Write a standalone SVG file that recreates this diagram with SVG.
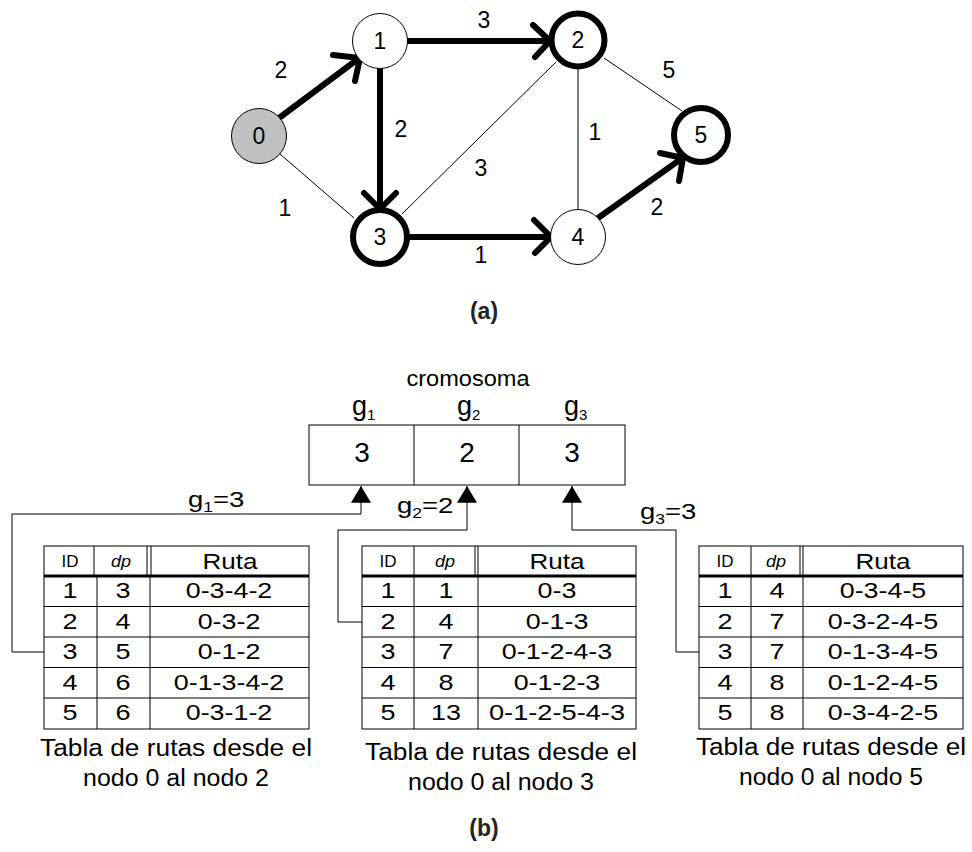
<svg xmlns="http://www.w3.org/2000/svg" width="972" height="852" viewBox="0 0 972 852">
<style>
text{font-family:"Liberation Sans",Arial,sans-serif;fill:#000}
.nl{font-size:23px;text-anchor:middle}
.el{font-size:23px;text-anchor:middle}
.thick{fill:none;stroke:#000;stroke-width:6;stroke-linecap:round;stroke-linejoin:round}
.thin{fill:none;stroke:#000;stroke-width:1}
.node{fill:#fff;stroke:#000;stroke-width:1}
.nodeB{fill:#fff;stroke:#000;stroke-width:6}
.cap{font-size:23px;text-anchor:middle}
.tb{font-size:22.5px;text-anchor:middle}
.th{font-size:16px;text-anchor:middle}
.grid{fill:none;stroke:#000;stroke-width:1}
.conn{fill:none;stroke:#000;stroke-width:1}
.big{font-size:28px;text-anchor:middle}
.lbl{font-weight:bold;font-size:23px;text-anchor:middle;fill:#222}
</style>
<defs>
<marker id="tri" markerWidth="20" markerHeight="20" viewBox="0 0 16 19" refX="16" refY="9.5" orient="auto" markerUnits="userSpaceOnUse">
<path d="M0,0 L16,9.5 L0,19 Z" fill="#000"/>
</marker>
</defs>

<g id="edges">
<line class="thin" x1="280" y1="154" x2="354" y2="218"/>
<line class="thin" x1="402" y1="214" x2="556" y2="62"/>
<line class="thin" x1="578" y1="69" x2="578" y2="210"/>
<line class="thin" x1="604" y1="58" x2="682" y2="111"/>
<path class="thick" d="M279,118 L358,59 M333,55 L360,58 L355,81"/>
<path class="thick" d="M408,41 L548,41 M533,25 L550,41 L535,57"/>
<path class="thick" d="M380,68 L380,207 M364,193 L380,209 L396,193"/>
<path class="thick" d="M410,237 L549,237 M534,220 L551,237 L535,253"/>
<path class="thick" d="M598,218 L681,159 M660,153 L683,158 L679,181"/>
<text class="el" x="281" y="78">2</text>
<text class="el" x="484" y="28">3</text>
<text class="el" x="401" y="137">2</text>
<text class="el" x="285" y="216">1</text>
<text class="el" x="481" y="176">3</text>
<text class="el" x="595" y="140">1</text>
<text class="el" x="669" y="78">5</text>
<text class="el" x="481" y="263">1</text>
<text class="el" x="657" y="215">2</text>
</g>

<g id="n0"><circle cx="259" cy="136" r="27.5" fill="#c0c0c0" stroke="#000" stroke-width="1"/><text class="nl" x="259" y="144">0</text></g>
<g id="n1"><circle class="node" cx="380" cy="41" r="27.5"/><text class="nl" x="380" y="49">1</text></g>
<g id="n2"><circle class="nodeB" cx="578" cy="40" r="26.5"/><text class="nl" x="578" y="48">2</text></g>
<g id="n3"><circle class="nodeB" cx="380" cy="237" r="27"/><text class="nl" x="380" y="245">3</text></g>
<g id="n4"><circle class="node" cx="578" cy="237" r="27.5"/><text class="nl" x="578" y="245">4</text></g>
<g id="n5"><circle class="nodeB" cx="701" cy="135" r="27"/><text class="nl" x="701" y="143">5</text></g>

<text class="lbl" x="484" y="319">(a)</text>

<g id="cromosoma">
<text x="468" y="386" style="font-size:22px;text-anchor:middle" textLength="123" lengthAdjust="spacingAndGlyphs">cromosoma</text>
<text x="352" y="415" style="font-size:27px">g<tspan dy="5" style="font-size:15px">1</tspan></text>
<text x="457" y="415" style="font-size:27px">g<tspan dy="5" style="font-size:15px">2</tspan></text>
<text x="564" y="415" style="font-size:27px">g<tspan dy="5" style="font-size:15px">3</tspan></text>
<rect class="grid" x="309" y="425" width="316" height="60"/>
<line class="grid" x1="414" y1="425" x2="414" y2="485"/>
<line class="grid" x1="519" y1="425" x2="519" y2="485"/>
<text class="big" x="362" y="462">3</text>
<text class="big" x="467" y="462">2</text>
<text class="big" x="572" y="462">3</text>
</g>

<g id="connectors">
<path class="conn" d="M44,652 L12,652 L12,514 L361,514 L361,486" marker-end="url(#tri)"/>
<path class="conn" d="M362,622 L338,622 L338,530 L467,530 L467,486" marker-end="url(#tri)"/>
<path class="conn" d="M699,652 L676,652 L676,530 L572,530 L572,486" marker-end="url(#tri)"/>
<text transform="translate(188,507) scale(1.25,1)" style="font-size:22px">g<tspan dy="5" style="font-size:14px">1</tspan><tspan dy="-5">=3</tspan></text>
<text transform="translate(397,513) scale(1.25,1)" style="font-size:22px">g<tspan dy="5" style="font-size:14px">2</tspan><tspan dy="-5">=2</tspan></text>
<text transform="translate(640,519) scale(1.25,1)" style="font-size:22px">g<tspan dy="5" style="font-size:14px">3</tspan><tspan dy="-5">=3</tspan></text>
</g>

<g id="tabla1">
<rect class="grid" x="44" y="546" width="265" height="183"/>
<line class="grid" x1="94" y1="546" x2="94" y2="576"/>
<line class="grid" x1="147" y1="546" x2="147" y2="576"/>
<line class="grid" x1="151" y1="546" x2="151" y2="576"/>
<line class="grid" x1="97" y1="576" x2="97" y2="729"/>
<line class="grid" x1="150" y1="576" x2="150" y2="729"/>
<line x1="44" y1="576" x2="309" y2="576" stroke="#000" stroke-width="3"/>
<line class="grid" x1="44" y1="606.5" x2="309" y2="606.5"/>
<line class="grid" x1="44" y1="637" x2="309" y2="637"/>
<line class="grid" x1="44" y1="667.5" x2="309" y2="667.5"/>
<line class="grid" x1="44" y1="698" x2="309" y2="698"/>
<text class="th" x="70" y="567" textLength="17" lengthAdjust="spacingAndGlyphs">ID</text>
<text class="th" x="121" y="567" font-style="italic" textLength="20" lengthAdjust="spacingAndGlyphs">dp</text>
<text class="tb" x="230" y="569" textLength="55" lengthAdjust="spacingAndGlyphs">Ruta</text>
<text class="tb" x="70" y="598" textLength="15" lengthAdjust="spacingAndGlyphs">1</text><text class="tb" x="123" y="598" textLength="15" lengthAdjust="spacingAndGlyphs">3</text><text class="tb" x="229" y="598" textLength="86.5" lengthAdjust="spacingAndGlyphs">0-3-4-2</text>
<text class="tb" x="70" y="628.5" textLength="15" lengthAdjust="spacingAndGlyphs">2</text><text class="tb" x="123" y="628.5" textLength="15" lengthAdjust="spacingAndGlyphs">4</text><text class="tb" x="229" y="628.5" textLength="62.7" lengthAdjust="spacingAndGlyphs">0-3-2</text>
<text class="tb" x="70" y="659" textLength="15" lengthAdjust="spacingAndGlyphs">3</text><text class="tb" x="123" y="659" textLength="15" lengthAdjust="spacingAndGlyphs">5</text><text class="tb" x="229" y="659" textLength="62.7" lengthAdjust="spacingAndGlyphs">0-1-2</text>
<text class="tb" x="70" y="689.5" textLength="15" lengthAdjust="spacingAndGlyphs">4</text><text class="tb" x="123" y="689.5" textLength="15" lengthAdjust="spacingAndGlyphs">6</text><text class="tb" x="229" y="689.5" textLength="110.4" lengthAdjust="spacingAndGlyphs">0-1-3-4-2</text>
<text class="tb" x="70" y="720" textLength="15" lengthAdjust="spacingAndGlyphs">5</text><text class="tb" x="123" y="720" textLength="15" lengthAdjust="spacingAndGlyphs">6</text><text class="tb" x="229" y="720" textLength="86.5" lengthAdjust="spacingAndGlyphs">0-3-1-2</text>
<text class="cap" x="176" y="756" textLength="272" lengthAdjust="spacingAndGlyphs">Tabla de rutas desde el</text>
<text class="cap" x="176" y="786" textLength="186" lengthAdjust="spacingAndGlyphs">nodo 0 al nodo 2</text>
</g>

<g id="tabla2">
<rect class="grid" x="362" y="546" width="274" height="183"/>
<line class="grid" x1="414" y1="546" x2="414" y2="729"/>
<line class="grid" x1="475" y1="546" x2="475" y2="576"/>
<line class="grid" x1="478" y1="546" x2="478" y2="729"/>
<line x1="362" y1="576" x2="636" y2="576" stroke="#000" stroke-width="3"/>
<line class="grid" x1="362" y1="606.5" x2="636" y2="606.5"/>
<line class="grid" x1="362" y1="637" x2="636" y2="637"/>
<line class="grid" x1="362" y1="667.5" x2="636" y2="667.5"/>
<line class="grid" x1="362" y1="698" x2="636" y2="698"/>
<text class="th" x="388" y="567" textLength="17" lengthAdjust="spacingAndGlyphs">ID</text>
<text class="th" x="445" y="567" font-style="italic" textLength="20" lengthAdjust="spacingAndGlyphs">dp</text>
<text class="tb" x="557" y="569" textLength="55" lengthAdjust="spacingAndGlyphs">Ruta</text>
<text class="tb" x="388" y="598" textLength="15" lengthAdjust="spacingAndGlyphs">1</text><text class="tb" x="446" y="598" textLength="15" lengthAdjust="spacingAndGlyphs">1</text><text class="tb" x="557" y="598" textLength="38.8" lengthAdjust="spacingAndGlyphs">0-3</text>
<text class="tb" x="388" y="628.5" textLength="15" lengthAdjust="spacingAndGlyphs">2</text><text class="tb" x="446" y="628.5" textLength="15" lengthAdjust="spacingAndGlyphs">4</text><text class="tb" x="557" y="628.5" textLength="62.7" lengthAdjust="spacingAndGlyphs">0-1-3</text>
<text class="tb" x="388" y="659" textLength="15" lengthAdjust="spacingAndGlyphs">3</text><text class="tb" x="446" y="659" textLength="15" lengthAdjust="spacingAndGlyphs">7</text><text class="tb" x="557" y="659" textLength="110.4" lengthAdjust="spacingAndGlyphs">0-1-2-4-3</text>
<text class="tb" x="388" y="689.5" textLength="15" lengthAdjust="spacingAndGlyphs">4</text><text class="tb" x="446" y="689.5" textLength="15" lengthAdjust="spacingAndGlyphs">8</text><text class="tb" x="557" y="689.5" textLength="86.5" lengthAdjust="spacingAndGlyphs">0-1-2-3</text>
<text class="tb" x="388" y="720" textLength="15" lengthAdjust="spacingAndGlyphs">5</text><text class="tb" x="446" y="720" textLength="30" lengthAdjust="spacingAndGlyphs">13</text><text class="tb" x="557" y="720" textLength="136" lengthAdjust="spacingAndGlyphs">0-1-2-5-4-3</text>
<text class="cap" x="501" y="760" textLength="272" lengthAdjust="spacingAndGlyphs">Tabla de rutas desde el</text>
<text class="cap" x="501" y="790" textLength="186" lengthAdjust="spacingAndGlyphs">nodo 0 al nodo 3</text>
</g>

<g id="tabla3">
<rect class="grid" x="699" y="546" width="264" height="183"/>
<line class="grid" x1="751" y1="546" x2="751" y2="729"/>
<line class="grid" x1="800" y1="546" x2="800" y2="576"/>
<line class="grid" x1="803" y1="546" x2="803" y2="729"/>
<line x1="699" y1="576" x2="963" y2="576" stroke="#000" stroke-width="3"/>
<line class="grid" x1="699" y1="606.5" x2="963" y2="606.5"/>
<line class="grid" x1="699" y1="637" x2="963" y2="637"/>
<line class="grid" x1="699" y1="667.5" x2="963" y2="667.5"/>
<line class="grid" x1="699" y1="698" x2="963" y2="698"/>
<text class="th" x="725" y="567" textLength="17" lengthAdjust="spacingAndGlyphs">ID</text>
<text class="th" x="776" y="567" font-style="italic" textLength="20" lengthAdjust="spacingAndGlyphs">dp</text>
<text class="tb" x="883" y="569" textLength="55" lengthAdjust="spacingAndGlyphs">Ruta</text>
<text class="tb" x="725" y="598" textLength="15" lengthAdjust="spacingAndGlyphs">1</text><text class="tb" x="777" y="598" textLength="15" lengthAdjust="spacingAndGlyphs">4</text><text class="tb" x="883" y="598" textLength="86.5" lengthAdjust="spacingAndGlyphs">0-3-4-5</text>
<text class="tb" x="725" y="628.5" textLength="15" lengthAdjust="spacingAndGlyphs">2</text><text class="tb" x="777" y="628.5" textLength="15" lengthAdjust="spacingAndGlyphs">7</text><text class="tb" x="883" y="628.5" textLength="110.4" lengthAdjust="spacingAndGlyphs">0-3-2-4-5</text>
<text class="tb" x="725" y="659" textLength="15" lengthAdjust="spacingAndGlyphs">3</text><text class="tb" x="777" y="659" textLength="15" lengthAdjust="spacingAndGlyphs">7</text><text class="tb" x="883" y="659" textLength="110.4" lengthAdjust="spacingAndGlyphs">0-1-3-4-5</text>
<text class="tb" x="725" y="689.5" textLength="15" lengthAdjust="spacingAndGlyphs">4</text><text class="tb" x="777" y="689.5" textLength="15" lengthAdjust="spacingAndGlyphs">8</text><text class="tb" x="883" y="689.5" textLength="110.4" lengthAdjust="spacingAndGlyphs">0-1-2-4-5</text>
<text class="tb" x="725" y="720" textLength="15" lengthAdjust="spacingAndGlyphs">5</text><text class="tb" x="777" y="720" textLength="15" lengthAdjust="spacingAndGlyphs">8</text><text class="tb" x="883" y="720" textLength="110.4" lengthAdjust="spacingAndGlyphs">0-3-4-2-5</text>
<text class="cap" x="831" y="755" textLength="270" lengthAdjust="spacingAndGlyphs">Tabla de rutas desde el</text>
<text class="cap" x="831" y="785" textLength="184" lengthAdjust="spacingAndGlyphs">nodo 0 al nodo 5</text>
</g>

<text class="lbl" x="484" y="836">(b)</text>
</svg>
